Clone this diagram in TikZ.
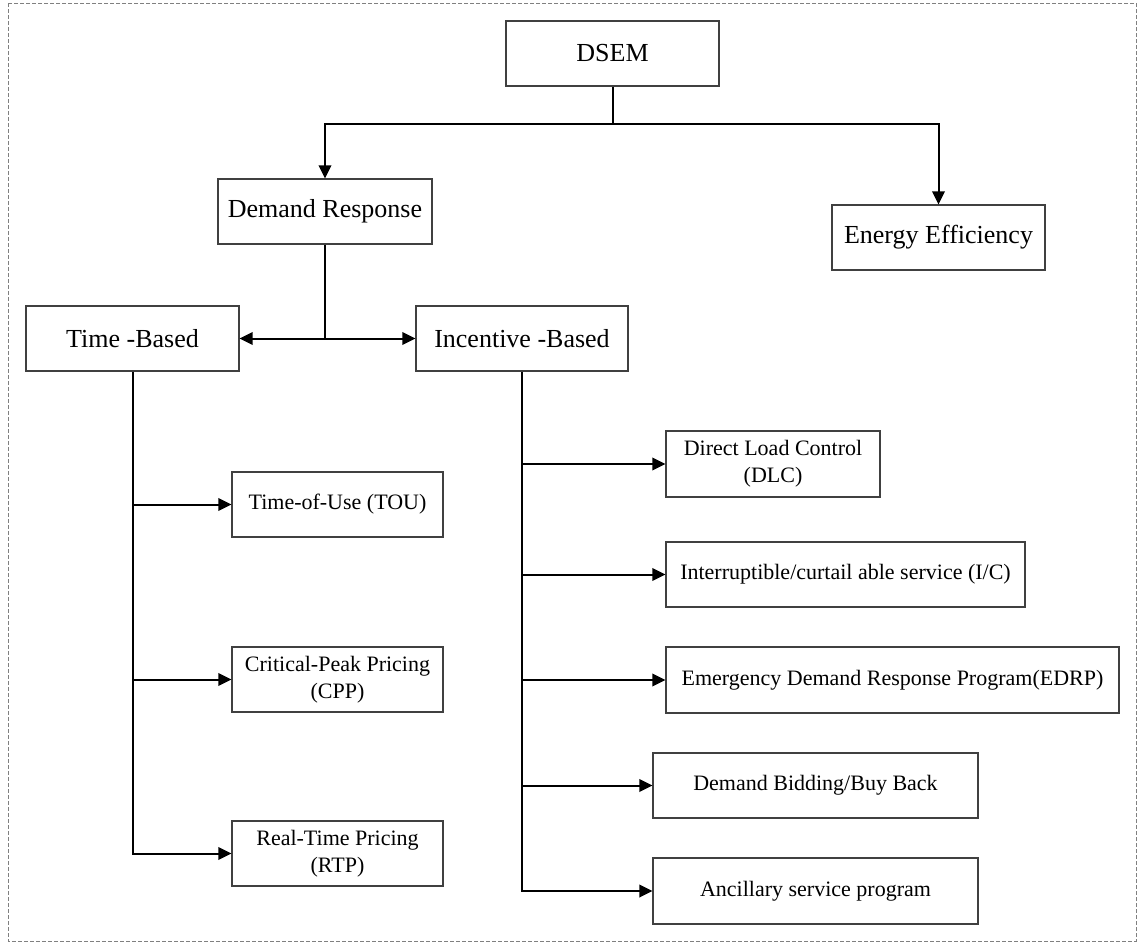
\documentclass[tikz,border=0pt]{standalone}
\usepackage{fontspec}
\setmainfont{Liberation Serif}
\usetikzlibrary{arrows.meta}
\begin{document}
\begin{tikzpicture}[x=1pt,y=-1pt,
  box/.style={draw=black!75,line width=1.2pt,rectangle,inner sep=0pt,
    minimum height=65pt,align=center,text=black},
  bigbox/.style={box,font=\fontsize{26}{30}\selectfont,minimum width=213pt},
  smallbox/.style={box,font=\fontsize{22}{27}\selectfont},
  link/.style={line width=2pt,black},
  arr/.style={link,-{Triangle[length=13pt,width=12.5pt]}},
  frame/.style={draw=black!50,line width=1pt,dash pattern=on 4pt off 2pt}]
\useasboundingbox (0,0) rectangle (1139,943);
\draw[frame] (8,3) rectangle (1136,941);

% top level
\node[bigbox] (dsem) at (612.5,53.5) {DSEM};
\node[bigbox,minimum width=214pt] (dr) at (325,211.5) {Demand Response};
\node[bigbox] (ee) at (938.5,237.5) {Energy Efficiency};

% demand response families
\node[bigbox] (tb) at (132.5,338.5) {Time -Based};
\node[bigbox,minimum width=212pt] (ib) at (522,338.5) {Incentive -Based};

% time-based programs
\node[smallbox,minimum width=211pt] (tou) at (337.5,504.5) {Time-of-Use (TOU)};
\node[smallbox,minimum width=211pt] (cpp) at (337.5,679.5) {Critical-Peak Pricing\\(CPP)};
\node[smallbox,minimum width=211pt] (rtp) at (337.5,853.5) {Real-Time Pricing\\(RTP)};

% incentive-based programs
\node[smallbox,minimum width=214pt,minimum height=66pt] (dlc) at (773,464) {Direct Load Control\\(DLC)};
\node[smallbox,minimum width=359pt] (ic) at (845.5,574.5) {Interruptible/curtail able service (I/C)};
\node[smallbox,minimum width=453pt,minimum height=66pt] (edrp) at (892.5,680) {Emergency Demand Response Program(EDRP)};
\node[smallbox,minimum width=325pt] (dbb) at (815.5,785.5) {Demand Bidding/Buy Back};
\node[smallbox,minimum width=325pt,minimum height=66pt] (anc) at (815.5,891) {Ancillary service program};

% connectors
\coordinate (topbus) at (612.5,124);
\coordinate (drbus) at (325,338.5);
\draw[link] (dsem.south) -- (topbus);
\draw[arr] (topbus) -| (dr.north);
\draw[arr] (topbus) -| (ee.north);
\draw[link] (dr.south) -- (drbus);
\draw[arr] (drbus) -- (tb.east);
\draw[arr] (drbus) -- (ib.west);

\draw[arr] (tb.south) |- (rtp.west);
\draw[arr] (tb.south |- tou.west) -- (tou.west);
\draw[arr] (tb.south |- cpp.west) -- (cpp.west);

\draw[arr] (ib.south) |- (anc.west);
\draw[arr] (ib.south |- dlc.west) -- (dlc.west);
\draw[arr] (ib.south |- ic.west) -- (ic.west);
\draw[arr] (ib.south |- edrp.west) -- (edrp.west);
\draw[arr] (ib.south |- dbb.west) -- (dbb.west);
\end{tikzpicture}
\end{document}
